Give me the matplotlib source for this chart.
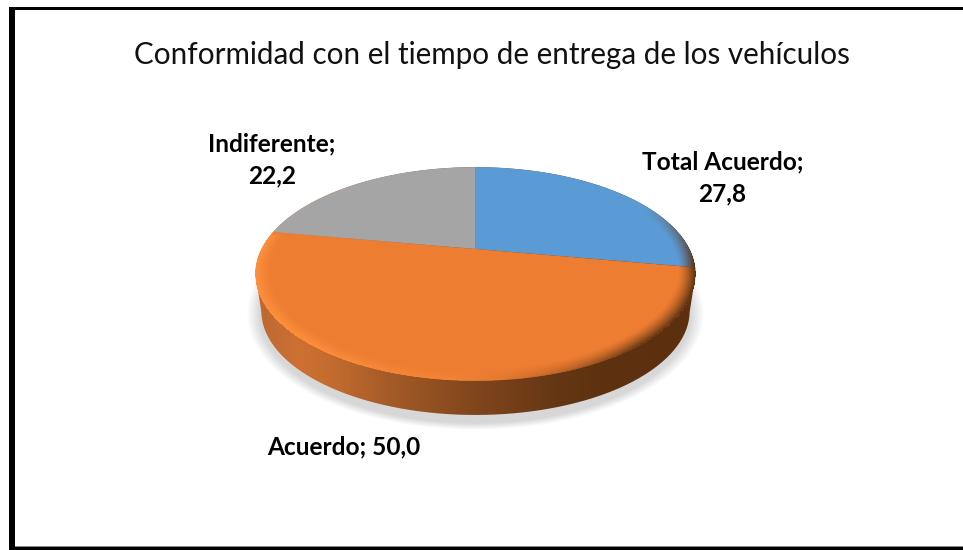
import numpy as np
import matplotlib
matplotlib.use('Agg')
import matplotlib.pyplot as plt
from matplotlib.patches import Rectangle, PathPatch
from matplotlib.path import Path
from matplotlib.transforms import Transform

plt.rcParams['font.family'] = ['Lato', 'DejaVu Sans']

title = 'Conformidad con el tiempo de entrega de los vehículos'
categories = ['Total Acuerdo', 'Acuerdo', 'Indiferente']
values = [27.8, 50.0, 22.2]
colors = ['#5B9BD5', '#ED7D31', '#A5A5A5']

W, H = 963, 550
APEX_X, APEX_Y = 475.5, 249.0
TILT_A, TILT_B, TILT_K = 214.0, 101.0, 0.234
SIDE_SCALE, SIDE_DROP = 0.973, 37.0


class PieTilt(Transform):
    # projects the flat unit pie onto the picture, far edge smaller than near edge
    input_dims = output_dims = 2

    def transform_non_affine(self, pts):
        pts = np.asarray(pts, dtype=float)
        d = 1 + TILT_K * pts[:, 1]
        return np.column_stack([APEX_X + TILT_A * pts[:, 0] / d, APEX_Y - TILT_B * pts[:, 1] / d])

    def transform_path_non_affine(self, path):
        ts = np.linspace(0, 1, 24)
        pts = np.vstack([seg(ts) for seg, _ in path.iter_bezier()])
        return Path(self.transform_non_affine(pts))


tilt = PieTilt()

fig = plt.figure(figsize=(W / 100, H / 100), dpi=100)
ax = fig.add_axes([0, 0, 1, 1])

wedges, _ = ax.pie(values, colors=colors, startangle=90, counterclock=False, radius=1.0)
ax.set_aspect('auto')
ax.set_xlim(0, W)
ax.set_ylim(H, 0)
ax.axis('off')
for w in wedges:
    w.set_transform(tilt + ax.transData)
    w.set_zorder(3)
    w.set_clip_on(False)
    w.set_linewidth(0)

yy, xx = np.mgrid[0:H, 0:W] + 0.5
extent = (0, W, H, 0)

# outline of the top face and of the bottom face
phi = np.linspace(0, 2 * np.pi, 721)
top = tilt.transform_non_affine(np.column_stack([np.cos(phi), np.sin(phi)]))
cx, cy = (top[:, 0].max() + top[:, 0].min()) / 2, (top[:, 1].max() + top[:, 1].min()) / 2
bottom = np.column_stack([cx + (top[:, 0] - cx) * SIDE_SCALE, cy + (top[:, 1] - cy) * SIDE_SCALE + SIDE_DROP])
hull = np.where((top[:, 1] <= cy)[:, None], top, bottom)
order = np.argsort(np.arctan2(hull[:, 1] - cy - 15, hull[:, 0] - cx))
hull = hull[order]
hull = np.vstack([hull, hull[0]])

# soft shadow under the pie
rs = np.hypot((xx - cx) / 229, (yy - (cy + SIDE_DROP + 3)) / 116)
shadow = np.zeros((H, W, 4))
shadow[..., 3] = 0.16 * np.clip((1 - rs) / 0.06, 0, 1)
ax.imshow(shadow, extent=extent, aspect='auto', zorder=1, interpolation='bilinear')

# side wall, shaded left to right
stops_x = [256, 262, 300, 330, 400, 475, 560, 600, 695]
stops_r = [190, 190, 205, 196, 160, 128, 100, 94, 92]
stops_g = [105, 105, 112, 108, 88, 70, 54, 50, 48]
stops_b = [50, 50, 50, 48, 38, 28, 20, 16, 15]
side = np.dstack([np.interp(xx, stops_x, s) / 255 for s in (stops_r, stops_g, stops_b)])
side_im = ax.imshow(side, extent=extent, aspect='auto', zorder=2, interpolation='bilinear')
side_im.set_clip_path(PathPatch(Path(hull), transform=ax.transData))

# rounded rim round the top face, bright on the left and dark on the right
d = APEX_Y - yy
v = d / (TILT_B - TILT_K * d)
u = (xx - APEX_X) * (1 + TILT_K * v) / TILT_A
r = np.hypot(u, v)
t = (xx - 256) / 439
rim_r = np.interp(t, [0, 0.45, 0.62, 0.85, 1], [255, 250, 190, 110, 90]) / 255
rim_g = np.interp(t, [0, 0.45, 0.62, 0.85, 1], [146, 140, 100, 58, 50]) / 255
rim_b = np.interp(t, [0, 0.45, 0.62, 0.85, 1], [62, 58, 40, 22, 18]) / 255
band = np.clip((r - 0.925) / 0.075, 0, 1) ** 1.4
# the bright half of the rim stays on the orange slice, the gray one has none
fade_v = np.where(xx < APEX_X, np.clip((0.17 - v) / 0.04, 0, 1), np.clip((0.45 - v) / 0.6, 0, 1))
fade = fade_v * np.clip(0.35 + np.abs(xx - 475) / 250, 0, 1)
rim = np.dstack([rim_r, rim_g, rim_b, np.where(r <= 1.0, band * fade, 0.0)])
ax.imshow(rim, extent=extent, aspect='auto', zorder=4, interpolation='bilinear')

ax.set_xlim(0, W)
ax.set_ylim(H, 0)

# black frame of the picture, open on the right
ax.add_patch(Rectangle((9.5, 7), W - 9.5, 3, color='black', lw=0, zorder=5))
ax.add_patch(Rectangle((9, 7), 5.5, H - 7, color='black', lw=0, zorder=5))
ax.add_patch(Rectangle((14.5, 7), 0.8, H - 7, color='#888888', lw=0, zorder=5))
ax.add_patch(Rectangle((9, 547), W - 9, 3, color='black', lw=0, zorder=5))
ax.add_patch(Rectangle((15, 546), W - 15, 1, color='#888888', lw=0, zorder=5))

ax.text(492, 55, title, fontsize=21.3, ha='center', va='center', color='#111111', zorder=6)


def label(i, sep):
    return f'{categories[i]};{sep}{values[i]:.1f}'.replace('.', ',')


ax.text(722.5, 178, label(0, '\n'), fontsize=17.6, fontweight='bold', ha='center', va='center',
        linespacing=1.47, color='black', zorder=6)
ax.text(343.5, 447, label(1, ' '), fontsize=17.6, fontweight='bold', ha='center', va='center',
        color='black', zorder=6)
ax.text(272, 160, label(2, '\n'), fontsize=17.6, fontweight='bold', ha='center', va='center',
        linespacing=1.47, color='black', zorder=6)

fig.savefig('out.png', dpi=100)
